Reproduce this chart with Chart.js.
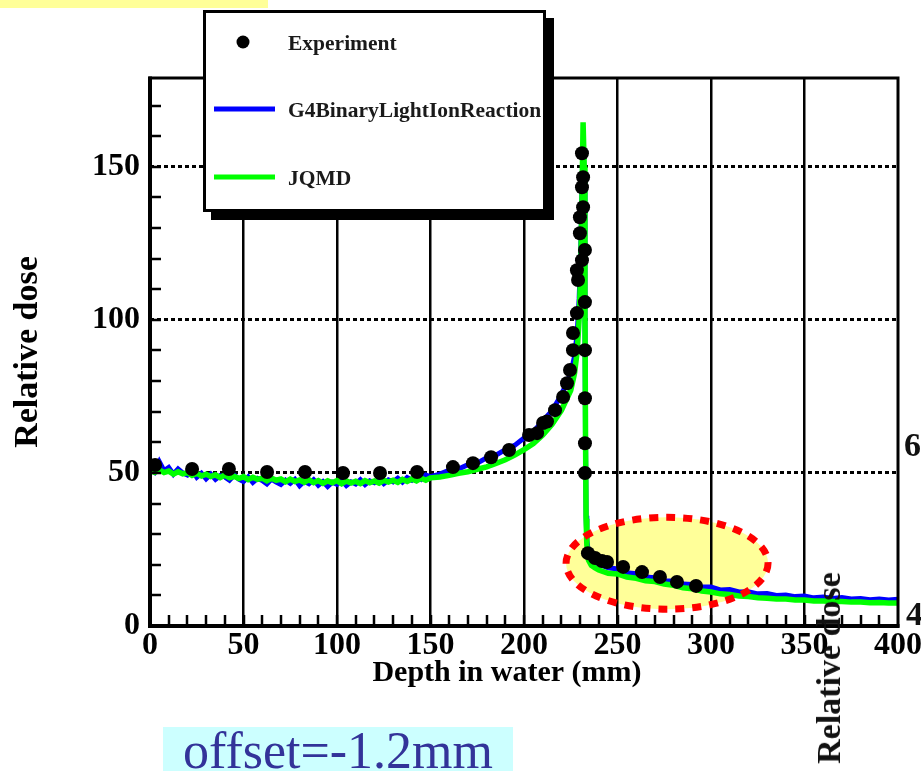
<!DOCTYPE html>
<html>
<head>
<meta charset="utf-8">
<script src="https://cdn.jsdelivr.net/npm/chart.js@4.4.1/dist/chart.umd.min.js"></script>
<style>
html,body{margin:0;padding:0;background:#fff;overflow:hidden;}
#wrap{position:relative;width:921px;height:771px;overflow:hidden;}
#c{position:absolute;left:0;top:0;}
.ov{position:absolute;white-space:nowrap;}
.serif{font-family:'Liberation Serif','Times New Roman',serif;}
</style>
</head>
<body>
<div id="wrap">
<canvas id="c" width="921" height="771"></canvas>
<div class="ov" style="left:0;top:0;width:268px;height:8px;background:#ffff99"></div>
<div class="ov" style="left:163px;top:727px;width:350px;height:44px;background:#ccffff"></div>
<div class="ov serif" style="left:183px;top:726px;font-size:52px;line-height:50px;color:#333399">offset=-1.2mm</div>
<div class="ov serif" style="left:904px;top:428px;font-size:34px;line-height:34px;font-weight:bold;color:#111">6</div>
<div class="ov serif" style="left:906px;top:597px;font-size:34px;line-height:34px;font-weight:bold;color:#111">4</div>
<div class="ov serif" style="left:829px;top:668px;font-size:34px;line-height:34px;font-weight:bold;color:#111;transform:translate(-50%,-50%) rotate(-90deg)">Relative dose</div>
</div>
<script>
// ---------- data ----------
const expDepth = [2.7, 22.5, 42.2, 62.6, 82.9, 103.2, 123.0, 142.8, 162.0, 172.7, 182.4, 192.0, 202.7, 207.0, 210.2, 212.3, 216.6, 220.9, 223.0, 224.6, 226.2, 226.2, 228.3, 228.9, 228.3, 231.0, 232.6, 229.9, 229.9, 231.6, 231.0, 231.6, 231.0, 232.6, 232.6, 232.6, 232.6, 232.6, 234.2, 238.0, 241.7, 244.4, 253.0, 263.1, 272.7, 281.8, 292.0];
const expDose  = [52.6, 51.3, 51.3, 50.3, 50.3, 50.0, 50.0, 50.3, 51.9, 53.2, 55.1, 57.5, 62.4, 63.0, 66.3, 66.8, 70.5, 74.8, 79.3, 83.6, 90.1, 95.7, 102.2, 113.0, 116.2, 119.5, 122.8, 128.3, 133.5, 136.8, 143.3, 146.6, 154.4, 105.8, 90.1, 74.4, 59.7, 50.0, 23.8, 22.2, 21.2, 20.9, 19.3, 17.6, 16.0, 14.4, 13.1];

const modelDepth = [0,2.5,5,7.5,10,12.5,15,17.5,20,22.5,25,27.5,30,32.5,35,37.5,40,42.5,45,47.5,50,52.5,55,57.5,60,62.5,65,67.5,70,72.5,75,77.5,80,82.5,85,87.5,90,92.5,95,97.5,100,102.5,105,107.5,110,112.5,115,117.5,120,122.5,125,127.5,130,132.5,135,137.5,140,142.5,145,147.5,150,
  155,160,165,170,175,180,185,190,195,200,205,210,215,220,225,
  227,228.5,229.5,230.3,231,231.6,232.2,232.6,232.9,233.2,233.6,234.5,
  236,238,
  240,245,250,255,260,265,270,275,280,285,290,295,300,305,310,315,320,325,330,335,340,345,350,355,360,365,370,375,380,385,390,395,400];

const g4Dose = [51.6,50.3,53.6,50.7,51.8,49.6,51.3,50.0,49.3,50.9,
  48.6,49.9,48.1,49.6,47.9,49.1,48.7,47.6,49.3,48.0,
  47.2,48.7,46.9,48.2,47.5,46.4,48.0,47.0,46.2,47.6,
  46.6,47.9,45.8,47.3,46.5,47.8,46.0,47.2,45.6,47.0,
  46.3,47.6,45.9,47.1,46.4,47.8,46.2,47.4,46.8,48.0,
  46.5,47.7,47.1,48.3,47.0,48.5,47.6,49.0,47.9,49.3,
  48.8,
  49.6,50.9,51.3,52.7,53.2,54.9,55.8,57.6,59.0,61.4,63.5,66.9,70.3,75.5,82.5,
  88,96,107,122,142,158,146,100,60,36,28,23.8,
  21.8,20.9,
  20.2,19.0,18.6,17.4,17.1,16.0,15.8,14.8,14.6,13.7,13.6,12.7,12.7,11.8,11.9,11.1,11.2,10.5,10.6,10.0,10.1,9.6,9.8,9.2,9.5,9.0,9.3,8.8,9.0,8.6,8.8,8.5,8.7];

const jqmdDose = [50.9,50.2,51.0,50.1,50.6,49.6,50.4,49.7,50.1,49.2,
  49.9,49.0,49.6,48.8,49.4,48.5,49.3,48.4,48.9,48.2,
  48.8,47.8,48.6,47.9,48.3,47.4,48.3,47.6,48.0,47.1,
  48.0,47.2,47.7,46.9,47.8,46.8,47.5,46.6,47.4,46.8,
  47.5,46.5,47.4,46.7,47.3,46.5,47.5,46.8,47.4,46.7,
  47.6,47.0,47.6,46.9,47.9,47.2,48.0,47.4,48.3,47.6,
  48.4,
  48.7,49.2,49.9,50.4,51.2,52.0,53.1,54.3,55.8,57.6,59.6,62.4,65.9,70.4,77.0,
  82.5,90.0,100.5,116,140,164.5,150,105,62,35,26.5,21.5,
  19.8,19.0,
  18.3,17.2,17.0,16.0,15.6,14.8,14.5,13.7,13.3,12.5,12.2,11.4,11.1,10.5,10.3,9.8,9.6,9.2,9.1,8.8,8.8,8.5,8.5,8.2,8.2,8.0,8.0,7.8,7.8,7.6,7.7,7.5,7.5];

const seriesNames = ['Experiment', 'G4BinaryLightIonReaction', 'JQMD'];
const xTickLabels = [0, 50, 100, 150, 200, 250, 300, 350, 400];
const yTickLabels = [0, 50, 100, 150];
const xTitle = 'Depth in water (mm)';
const yTitle = 'Relative dose';

// ---------- helpers ----------
const SERIF = "'Liberation Serif','Times New Roman',serif";
const toPts = (xs, ys) => xs.map((x, i) => ({x: x, y: ys[i]}));
const HIGHLIGHT = {x: 276.5, y: 20.5, rx: 54, ry: 15}; // annotation ellipse, data units

function ellipsePath(chart) {
  const {ctx, scales: {x, y}} = chart;
  const cx = x.getPixelForValue(HIGHLIGHT.x), cy = y.getPixelForValue(HIGHLIGHT.y);
  const rx = x.getPixelForValue(HIGHLIGHT.x + HIGHLIGHT.rx) - cx;
  const ry = cy - y.getPixelForValue(HIGHLIGHT.y + HIGHLIGHT.ry);
  ctx.beginPath();
  ctx.ellipse(cx, cy, rx, ry, 0, 0, Math.PI * 2);
}

const deco = {
  id: 'deco',
  beforeDraw(chart) {
    const ctx = chart.ctx;
    ctx.save();
    ctx.fillStyle = '#fff';
    ctx.fillRect(0, 0, chart.width, chart.height);
    ellipsePath(chart);
    ctx.fillStyle = '#ffff99';
    ctx.fill();
    ctx.restore();
  },
  afterDraw(chart) {
    const {ctx, chartArea: a, scales: {x, y}} = chart;
    ctx.save();
    // inward tick marks
    ctx.strokeStyle = '#000';
    ctx.lineWidth = 2.5;
    ctx.beginPath();
    y.ticks.forEach(t => {
      if (t.value <= 0) return;
      const py = Math.round(y.getPixelForValue(t.value));
      ctx.moveTo(a.left, py); ctx.lineTo(a.left + 11, py);
    });
    x.ticks.forEach(t => {
      if (t.value <= 0 || t.value >= 400) return;
      const px = Math.round(x.getPixelForValue(t.value));
      ctx.moveTo(px, a.bottom); ctx.lineTo(px, a.bottom - 11);
    });
    ctx.stroke();
    // frame
    ctx.lineWidth = 3;
    ctx.strokeRect(a.left, a.top, a.right - a.left, a.bottom - a.top);
    ctx.lineWidth = 4;
    ctx.beginPath();
    ctx.moveTo(a.left, a.top - 1.5); ctx.lineTo(a.left, a.bottom + 2);
    ctx.moveTo(a.left - 2, a.bottom); ctx.lineTo(a.right + 1.5, a.bottom);
    ctx.stroke();
    // x axis title
    ctx.fillStyle = '#000';
    ctx.font = 'bold 30px ' + SERIF;
    ctx.textAlign = 'center';
    ctx.textBaseline = 'middle';
    ctx.fillText(xTitle, 507, 673);
    // ellipse dotted border
    ellipsePath(chart);
    ctx.strokeStyle = '#ff0000';
    ctx.lineWidth = 7;
    ctx.setLineDash([9, 8]);
    ctx.stroke();
    ctx.setLineDash([]);
    // legend box with shadow
    const L = {x0: 203, y0: 10, x1: 546, y1: 212};
    const w = L.x1 - L.x0, h = L.y1 - L.y0;
    ctx.fillStyle = '#000';
    ctx.fillRect(L.x0 + 8, L.y0 + 8, w, h);
    ctx.fillStyle = '#fff';
    ctx.fillRect(L.x0, L.y0, w, h);
    ctx.lineWidth = 3;
    ctx.strokeStyle = '#000';
    ctx.strokeRect(L.x0 + 1.5, L.y0 + 1.5, w - 3, h - 3);
    const rows = [42, 109, 177];
    const ds = chart.data.datasets;
    ctx.font = 'bold 21.5px ' + SERIF;
    ctx.textAlign = 'left';
    ctx.textBaseline = 'middle';
    ds.forEach((d, i) => {
      const ry = rows[i];
      if (i === 0) {
        ctx.fillStyle = d.backgroundColor;
        ctx.beginPath(); ctx.arc(243, ry, 6.5, 0, Math.PI * 2); ctx.fill();
      } else {
        ctx.strokeStyle = d.borderColor;
        ctx.lineWidth = 5;
        ctx.beginPath(); ctx.moveTo(214, ry); ctx.lineTo(275, ry); ctx.stroke();
      }
      ctx.fillStyle = '#1a1a1a';
      ctx.fillText(d.label, 288, ry + 2);
    });
    ctx.restore();
  }
};

new Chart(document.getElementById('c'), {
  type: 'scatter',
  data: {
    datasets: [
      {label: seriesNames[0], data: toPts(expDepth, expDose), backgroundColor: '#000', borderColor: '#000',
       pointRadius: 7, pointHoverRadius: 7, pointBorderWidth: 0, showLine: false, order: 1},
      {label: seriesNames[1], data: toPts(modelDepth, g4Dose), borderColor: '#0000ff', backgroundColor: '#0000ff',
       borderWidth: 5, pointRadius: 0, showLine: true, tension: 0, order: 3},
      {label: seriesNames[2], data: toPts(modelDepth, jqmdDose), borderColor: '#00ff00', backgroundColor: '#00ff00',
       borderWidth: 5.5, pointRadius: 0, showLine: true, tension: 0, order: 2}
    ]
  },
  options: {
    responsive: false,
    animation: false,
    devicePixelRatio: 1,
    layout: {padding: {left: 0, top: 78, right: 23, bottom: 0}},
    plugins: {legend: {display: false}, tooltip: {enabled: false}},
    scales: {
      x: {
        type: 'linear', position: 'bottom', min: 0, max: 400,
        ticks: {stepSize: 10, autoSkip: false, maxRotation: 0, minRotation: 0, includeBounds: false,
                color: '#000', padding: 1, font: {family: SERIF, size: 32, weight: 'bold'},
                callback: v => xTickLabels.includes(v) ? String(v) : ''},
        grid: {color: c => (c.tick && c.tick.value % 50 === 0 && c.tick.value > 0 && c.tick.value < 400) ? '#000' : 'rgba(0,0,0,0)',
               lineWidth: 2.5, drawTicks: false},
        border: {display: false},
        afterFit: s => { s.height = 145; s.paddingLeft = 0; s.paddingRight = 0; }
      },
      y: {
        type: 'linear', min: 0, max: 179,
        ticks: {stepSize: 10, autoSkip: false, includeBounds: false, color: '#000', padding: 10,
                font: {family: SERIF, size: 32, weight: 'bold'},
                callback: v => yTickLabels.includes(v) ? String(v) : ''},
        grid: {color: c => (c.tick && [50, 100, 150].includes(c.tick.value)) ? '#000' : 'rgba(0,0,0,0)',
               lineWidth: 3, drawTicks: false},
        border: {display: false, dash: [4, 3]},
        title: {display: true, text: yTitle, color: '#000', font: {family: SERIF, size: 34, weight: 'bold'},
                padding: {top: 8, bottom: 0}},
        afterFit: s => { s.width = 150; s.paddingTop = 0; s.paddingBottom = 0; }
      }
    }
  },
  plugins: [deco]
});
</script>
</body>
</html>
